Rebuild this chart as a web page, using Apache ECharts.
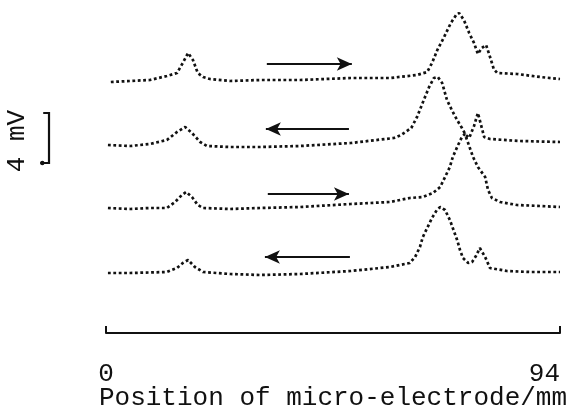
<!DOCTYPE html>
<html>
<head>
<meta charset="utf-8">
<script src="https://cdn.jsdelivr.net/npm/echarts@6/dist/echarts.min.js"></script>
<style>
html,body{margin:0;padding:0;background:#fff;}
#chart{width:568px;height:409px;}
</style>
</head>
<body>
<div id="chart"></div>
<script>
// ---- data (position in mm, potential in mV relative to each trace's baseline) ----
const xTickLabels = ['0', '94'];
const xTitle = 'Position of micro-electrode/mm';
const scaleLabel = '4 mV';
const scaleBarMV = 4;

const traceOffsets = [20.2, 15.0, 10.0, 4.8];          // baseline of each trace, mV
const traceDirections = ['right', 'left', 'right', 'left'];

const trace1X = [1.0, 5.0, 9.1, 12.6, 14.7, 15.9, 17.0, 18.0, 19.0, 20.1, 21.5, 25.7, 31.9, 40.2, 50.7, 58.8, 64.4, 66.5, 67.5, 68.6, 70.0, 71.4, 72.5, 73.1, 74.1, 75.2, 76.2, 77.0, 77.8, 78.7, 79.5, 80.3, 81.0, 85.1, 89.9, 94.0];
const trace1Y = [-0.12, -0.04, 0.04, 0.36, 0.6, 1.4, 2.2, 1.64, 0.6, 0.28, 0.12, -0.04, 0.04, 0.04, 0.2, 0.2, 0.44, 0.68, 1.4, 2.44, 3.48, 4.6, 5.24, 5.4, 4.84, 3.8, 3.0, 2.12, 2.6, 2.84, 1.9, 0.9, 0.6, 0.52, 0.28, 0.12];

const trace2X = [0.4, 5.0, 9.1, 12.6, 14.7, 16.4, 17.8, 19.5, 20.9, 25.7, 31.9, 40.2, 50.7, 59.6, 61.1, 63.2, 64.4, 65.8, 66.9, 67.9, 68.7, 69.6, 70.6, 71.6, 72.7, 73.7, 74.5, 75.2, 76.2, 77.0, 77.6, 78.3, 79.5, 85.7, 94.0];
const trace2Y = [0.04, -0.04, 0.12, 0.44, 1.08, 1.48, 1.0, 0.28, -0.04, -0.12, -0.12, -0.04, 0.2, 0.6, 0.84, 1.4, 2.28, 3.64, 4.68, 5.4, 5.48, 5.0, 3.64, 2.84, 2.04, 1.4, 0.84, 0.6, 1.56, 2.6, 1.72, 0.68, 0.52, 0.36, 0.28];

const trace3X = [0.4, 5.0, 9.1, 12.6, 14.3, 15.7, 16.6, 17.8, 19.0, 20.1, 25.7, 31.9, 40.2, 50.7, 58.8, 62.9, 65.6, 67.7, 69.2, 70.2, 71.2, 71.8, 72.9, 73.7, 74.3, 74.9, 76.0, 77.0, 78.5, 79.1, 79.9, 81.6, 85.1, 89.9, 94.0];
const trace3Y = [0, -0.08, 0, 0, 0.48, 1.04, 1.28, 0.88, 0.24, 0, -0.08, 0, 0.08, 0.32, 0.48, 0.8, 0.88, 1.2, 1.68, 2.48, 3.28, 4.08, 5.04, 5.68, 5.92, 5.28, 4.08, 3.28, 2.48, 1.44, 0.8, 0.48, 0.24, 0.16, 0.08];

const trace4X = [0.4, 5.0, 12.6, 14.7, 15.9, 17.0, 18.4, 20.1, 25.7, 31.9, 40.2, 50.7, 58.8, 62.9, 64.0, 65.0, 65.6, 66.5, 67.5, 68.5, 69.2, 70.2, 71.2, 71.8, 72.7, 73.3, 73.9, 75.0, 75.8, 76.6, 77.4, 78.5, 79.5, 83.0, 87.8, 94.0];
const trace4Y = [0, 0, 0.08, 0.4, 0.8, 1.04, 0.48, 0.08, -0.08, -0.16, -0.08, 0.16, 0.48, 0.8, 1.28, 2.08, 2.88, 3.6, 4.4, 5.04, 5.28, 5.04, 4.24, 3.6, 2.64, 1.84, 1.2, 0.8, 0.88, 1.36, 2.0, 1.28, 0.4, 0.16, 0.08, 0.08];

// arrows: start/end positions (mm) and height (mV)
const arrowStartX = [33.3, 50.3, 33.5, 50.5];
const arrowEndX   = [50.9, 33.1, 50.3, 32.9];
const arrowY      = [21.52, 16.32, 11.12, 6.08];

// scale bar position (mm) and base (mV)
const scaleBarX = [-13.0, -11.8, -13.6];
const scaleBarBase = 13.6;

// ---- build chart ----
const traceX = [trace1X, trace2X, trace3X, trace4X];
const traceY = [trace1Y, trace2Y, trace3Y, trace4Y];
const ink = '#111';
const font = 'Liberation Mono, Courier New, monospace';

const series = traceX.map((xs, i) => ({
  type: 'line',
  data: xs.map((x, j) => [x, traceY[i][j] + traceOffsets[i]]),
  symbol: 'none',
  smooth: false,
  lineStyle: { color: ink, width: 2.7, type: [2.8, 2.6] },
  silent: true,
  animation: false
}));

// arrows via markLine
series.push({
  type: 'line',
  data: [],
  silent: true,
  animation: false,
  markLine: {
    silent: true,
    animation: false,
    symbol: ['none', 'arrow'],
    symbolSize: [10, 15],
    label: { show: false },
    lineStyle: { color: ink, width: 2.2, type: 'solid' },
    data: arrowY.map((y, i) => [{ coord: [arrowStartX[i], y] }, { coord: [arrowEndX[i], y] }])
  }
});

const chart = echarts.init(document.getElementById('chart'), null, { renderer: 'canvas' });
chart.setOption({
  backgroundColor: '#fff',
  animation: false,
  grid: { left: 106, right: 8, top: 8, bottom: 76, containLabel: false, outerBoundsMode: 'none' },
  xAxis: {
    type: 'value',
    min: 0,
    max: 94,
    interval: 94,
    splitLine: { show: false },
    axisLine: { show: true, lineStyle: { color: ink, width: 2 } },
    axisTick: { show: true, inside: true, length: 7, lineStyle: { color: ink, width: 2 } },
    axisLabel: {
      show: true,
      margin: 28,
      fontFamily: font,
      fontSize: 26,
      color: ink,
      alignMaxLabel: 'right',
      formatter: (v) => (v === 0 ? xTickLabels[0] : xTickLabels[1])
    },
    name: xTitle,
    nameLocation: 'middle',
    nameGap: 52,
    nameMoveOverlap: false,
    nameTextStyle: { fontFamily: font, fontSize: 26, color: ink }
  },
  yAxis: {
    type: 'value',
    min: 0,
    max: 26,
    show: false
  },
  series: series
});

// scale bar drawn through the axes' scales
const pTop0 = chart.convertToPixel({ gridIndex: 0 }, [scaleBarX[0], scaleBarBase + scaleBarMV]);
const pTop1 = chart.convertToPixel({ gridIndex: 0 }, [scaleBarX[1], scaleBarBase + scaleBarMV]);
const pBot1 = chart.convertToPixel({ gridIndex: 0 }, [scaleBarX[1], scaleBarBase]);
const pBot0 = chart.convertToPixel({ gridIndex: 0 }, [scaleBarX[2], scaleBarBase]);
chart.setOption({
  graphic: [{
    type: 'polyline',
    shape: { points: [pTop0, pTop1, pBot1, pBot0] },
    style: { stroke: ink, lineWidth: 2.2, fill: null }
  }, {
    type: 'circle',
    shape: { cx: pBot0[0] + 2, cy: pBot0[1], r: 2.2 },
    style: { fill: ink }
  }, {
    type: 'text',
    x: 17,
    y: (pTop0[1] + pBot0[1]) / 2 + 3,
    rotation: Math.PI / 2,
    style: {
      text: scaleLabel,
      font: '26px ' + font,
      fill: ink,
      align: 'center',
      verticalAlign: 'middle'
    }
  }]
});
</script>
</body>
</html>
